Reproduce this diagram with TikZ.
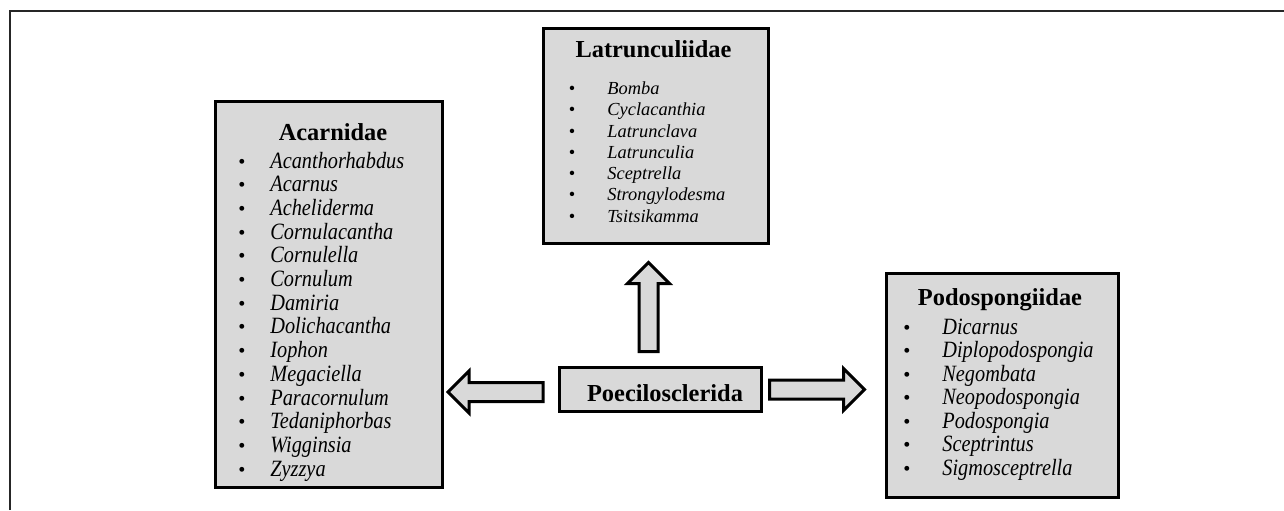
\documentclass[tikz,border=0pt]{standalone}
\usepackage{graphicx}
\usepackage{fontspec}
\setmainfont{Liberation Serif}
\definecolor{boxgray}{HTML}{D9D9D9}
\newcommand\tallname[1]{\scalebox{1}[1.15]{#1}}

\begin{document}
\begin{tikzpicture}[x=0.5pt, y=-0.5pt,
    family/.style={draw, line width=1.5pt, fill=boxgray, inner sep=0pt},
    famtitle/.style={anchor=base, inner sep=0pt, font=\fontsize{12.2}{14}\selectfont\bfseries},
    genus/.style={anchor=base west, inner sep=0pt, font=\fontsize{10.15}{12}\selectfont\itshape},
    bulletmark/.style={anchor=base, inner sep=0pt, font=\fontsize{10.15}{12}\selectfont},
    pics/fatarrow/.style={code={
        \draw[line width=1.5pt, fill=boxgray] (0,-9.5) -- (#1-21,-9.5) -- (#1-21,-21) -- (#1,0)
            -- (#1-21,21) -- (#1-21,9.5) -- (0,9.5) -- cycle;}}]
    \useasboundingbox (0,0) rectangle (1284,510);
    \draw[line width=1pt, black!85] (9.5,510) -- (9.5,10.5) -- (1284,10.5);

    % order in the middle
    \node[family, minimum width=101pt, minimum height=22pt] (order) at (660.5,389.5) {};
    \node[famtitle] (ordertitle) at (665,401.5) {Poecilosclerida};

    % families
    \node[family, minimum width=113.25pt, minimum height=193pt] (acarnidae) at (328.75,294.5) {};
    \node[famtitle] (acartitle) at (333,140) {Acarnidae};
    \foreach \g [count=\i from 0] in {Acanthorhabdus, Acarnus, Acheliderma, Cornulacantha,
        Cornulella, Cornulum, Damiria, Dolichacantha, Iophon, Megaciella, Paracornulum,
        Tedaniphorbas, Wigginsia, Zyzzya} {
        \node[bulletmark] (acarb\i) at (242,168+23.7*\i) {\textbullet};
        \node[genus] (acarg\i) at (270,168+23.7*\i) {\tallname{\g}};
    }

    \node[family, minimum width=112.5pt, minimum height=107.5pt] (latrunculiidae) at (656,136) {};
    \node[famtitle] (latrtitle) at (653.5,57) {Latrunculiidae};
    \foreach \g [count=\i from 0] in {Bomba, Cyclacanthia, Latrunclava, Latrunculia,
        Sceptrella, Strongylodesma, Tsitsikamma} {
        \node[bulletmark, font=\fontsize{9.2}{11}\selectfont] (latrb\i) at (572,94.5+21.25*\i) {\textbullet};
        \node[genus, font=\fontsize{9.2}{11}\selectfont\itshape] (latrg\i) at (607,94.5+21.25*\i) {\g};
    }

    \node[family, minimum width=116.25pt, minimum height=112pt] (podospongiidae) at (1002.25,385) {};
    \node[famtitle] (podotitle) at (1000,305) {Podospongiidae};
    \foreach \g [count=\i from 0] in {Dicarnus, Diplopodospongia, Negombata, Neopodospongia,
        Podospongia, Sceptrintus, Sigmosceptrella} {
        \node[bulletmark] (podob\i) at (907,334+23.5*\i) {\textbullet};
        \node[genus] (podog\i) at (942,334+23.5*\i) {\tallname{\g}};
    }

    % block arrows out of the order box
    \pic[rotate=180] at ([xshift=-7.5pt, yshift=-1.25pt]order.west) {fatarrow=95};
    \pic[rotate=90] at ([xshift=-6pt, yshift=7.25pt]order.north) {fatarrow=89};
    \pic at ([xshift=3.25pt]order.east) {fatarrow=95};
\end{tikzpicture}
\end{document}
